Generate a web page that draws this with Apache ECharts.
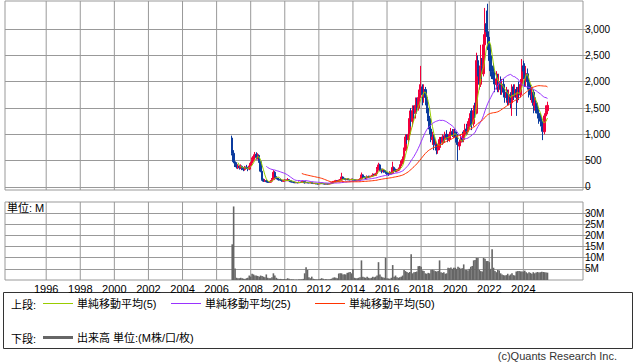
<!DOCTYPE html>
<html><head><meta charset="utf-8">
<script src="https://cdn.jsdelivr.net/npm/echarts@6/dist/echarts.min.js"></script>
<style>html,body{margin:0;padding:0;background:#fff}#c{width:638px;height:362px}</style>
</head><body><div id="c"></div>
<script>
// ---- axis definition ----
const axisStart = [1993, 8];        // first month on the time axis
const axisMonthCount = 408;         // months shown (1993-08 .. 2027-07)
const dataStart = [2006, 12];       // first month of price data
const yearLabels = ['1996','1998','2000','2002','2004','2006','2008','2010','2012','2014','2016','2018','2020','2022','2024'];
const priceTicks = [0, 500, 1000, 1500, 2000, 2500, 3000];
const volumeTicks = [5, 10, 15, 20, 25, 30];
const maPeriods = [5, 25, 50];

// ---- monthly OHLC (2006-12 .. 2025-06) ----
const opens = [
  930,
  640,480,420,380,400,360,390,350,330,380,360,340,
  400,450,520,580,620,560,600,480,300,140,110,120,
  100,95,90,110,140,280,200,160,150,140,130,110,
  120,130,120,140,120,100,95,90,80,85,80,90,
  85,100,105,80,85,80,78,85,70,65,68,60,
  58,62,70,68,62,55,58,56,60,65,80,100,
  110,120,115,125,130,190,160,150,140,150,140,135,
  145,135,130,125,130,135,150,230,190,180,170,200,
  190,200,210,240,220,250,330,420,330,300,320,300,
  280,250,240,280,260,370,330,300,320,340,400,450,
  520,700,950,900,1000,1300,1250,1450,1400,1550,1500,1700,
  1800,1900,1750,1850,1700,1500,1300,1100,900,950,800,800,
  700,750,900,850,950,900,1000,950,900,1000,1050,980,
  1050,1000,850,780,850,950,900,1000,1100,1050,1150,1300,
  1250,1200,1450,1400,2400,2250,1950,2300,2150,2700,3100,2950,
  2700,2400,2300,2200,2050,1950,2050,1900,2000,1850,1950,1800,
  1700,1800,1650,1750,1600,1900,1750,1850,1700,1800,1750,1950,
  2300,2200,2050,2150,2000,1850,1750,1800,1550,1600,1500,1400,
  1300,1250,1150,1050,1350,1450
];
const closes = [
  640,
  480,420,380,400,360,390,350,330,380,360,340,400,
  450,520,580,620,560,600,480,300,140,110,120,100,
  95,90,110,140,280,200,160,150,140,130,110,120,
  130,120,140,120,100,95,90,80,85,80,90,85,
  100,105,80,85,80,78,85,70,65,68,60,58,
  62,70,68,62,55,58,56,60,65,80,100,110,
  120,115,125,130,190,160,150,140,150,140,135,145,
  135,130,125,130,135,150,230,190,180,170,200,190,
  200,210,240,220,250,330,420,330,300,320,300,280,
  250,240,280,260,370,330,300,320,340,400,450,520,
  700,950,900,1000,1300,1250,1450,1400,1550,1500,1700,1800,
  1900,1750,1850,1700,1500,1300,1100,900,950,800,800,700,
  750,900,850,950,900,1000,950,900,1000,1050,980,1050,
  1000,850,780,850,950,900,1000,1100,1050,1150,1300,1250,
  1200,1450,1400,2400,2250,1950,2300,2150,2700,3100,2950,2700,
  2400,2300,2200,2050,1950,2050,1900,2000,1850,1950,1800,1700,
  1800,1650,1750,1600,1900,1750,1850,1700,1800,1750,1950,2300,
  2200,2050,2150,2000,1850,1750,1800,1550,1600,1500,1400,1300,
  1250,1150,1050,1350,1450,1550
];
const lows = [
  600,
  450,380,350,340,330,340,320,300,310,340,300,320,
  360,430,480,540,520,520,460,280,120,95,95,90,
  80,80,85,100,130,180,150,130,120,120,100,100,
  110,110,115,110,90,85,80,75,75,70,75,78,
  80,90,65,75,72,70,72,60,58,58,52,50,
  52,58,60,55,50,50,50,52,55,60,75,95,
  100,105,108,115,125,140,135,125,130,128,125,130,
  125,118,112,115,120,125,145,170,165,150,160,170,
  180,190,200,205,210,240,310,300,260,280,270,250,
  230,210,230,240,250,310,280,280,300,320,380,430,
  500,680,820,850,960,1150,1150,1300,1300,1400,1450,1650,
  1700,1550,1600,1550,1400,1250,1000,850,800,700,700,620,
  630,700,780,800,830,850,900,850,860,950,950,930,
  950,800,500,700,800,850,850,950,980,1000,1100,1150,
  1080,1150,1300,1380,2100,1850,1900,2050,2100,2600,2850,2600,
  2200,2100,2050,1950,1800,1850,1800,1800,1750,1750,1700,1600,
  1600,1550,1550,1500,1350,1650,1700,1350,1600,1650,1700,1900,
  2050,1900,1900,1850,1700,1650,1600,1400,1450,1400,1300,1200,
  1150,1050,890,1000,1300,1380
];
const highs = [
  975,
  700,520,470,430,420,430,410,380,400,420,380,430,
  480,560,620,665,660,640,620,500,320,160,150,140,
  120,110,130,170,320,300,220,180,170,160,140,140,
  150,140,170,150,125,110,100,95,95,95,105,100,
  115,120,110,95,95,90,100,90,75,75,72,66,
  70,78,80,72,65,64,62,66,72,90,115,125,
  135,130,140,150,270,200,175,160,165,160,150,160,
  160,145,140,142,150,165,275,240,205,195,220,215,
  215,230,260,250,270,380,460,440,350,350,340,320,
  300,270,300,300,480,390,350,340,370,430,500,580,
  750,1000,1000,1100,1450,1500,1550,1550,1700,1700,1850,1950,
  2300,1950,1950,1900,1750,1550,1350,1150,1050,1000,900,850,
  820,950,950,1000,980,1050,1080,1000,1050,1120,1100,1100,
  1100,1050,900,900,1000,1050,1080,1200,1200,1250,1400,1450,
  1500,1550,1600,2550,2500,2300,2700,2450,2900,3400,3350,3480,
  2850,2600,2500,2350,2150,2200,2150,2150,2100,2050,2050,1900,
  1900,1850,1850,1800,1950,1950,1950,1900,1900,2000,2050,2430,
  2400,2350,2300,2250,2100,1950,1900,1850,1700,1700,1600,1500,
  1400,1350,1200,1400,1550,1620
];
// monthly volume, millions
const volumes = [
  16,
  33,5.2,1.0,0.8,0.8,1.0,0.8,0.6,0.5,0.8,1.0,2.0,
  1.5,2.8,2.5,2.0,2.0,1.8,1.5,2.0,1.8,1.5,1.2,2.5,
  1.0,0.8,0.8,1.2,3.0,2.0,1.0,0.6,0.5,0.5,0.4,0.4,
  0.4,0.3,0.8,0.6,0.3,0.3,0.3,0.2,0.2,0.2,0.3,0.3,
  0.3,0.5,3.0,5.7,4.5,1.2,0.8,1.5,0.6,0.4,0.3,0.3,
  0.3,0.5,0.8,0.6,0.3,0.4,0.3,0.3,0.4,0.6,1.0,1.2,
  1.0,0.8,2.9,3.0,3.0,2.5,2.6,2.5,3.2,3.4,3.6,3.0,
  4.9,1.0,0.8,0.8,1.0,1.2,8.8,1.5,1.2,1.0,1.5,1.0,
  0.8,1.0,1.5,1.2,1.5,2.0,8.0,2.5,1.5,1.2,1.0,9.9,
  0.8,0.7,0.6,1.0,6.7,1.5,2.0,1.2,1.0,1.2,1.5,2.0,
  4.5,4.0,3.6,3.2,3.6,11.5,3.0,3.5,3.6,3.8,6.2,6.3,
  6.0,4.3,4.0,3.0,2.8,3.2,3.0,4.5,4.6,4.4,4.0,3.8,
  4.0,8.8,3.5,3.2,3.5,2.8,3.0,5.5,5.3,5.6,5.0,5.5,
  5.5,5.0,6.0,5.5,5.0,5.3,7.0,4.5,4.5,4.3,5.0,6.0,
  6.3,8.8,9.0,9.9,9.9,4.5,4.0,3.8,9.9,9.5,8.5,8.5,
  8.0,5.0,13.8,5.5,4.0,3.5,4.5,4.3,3.0,2.5,2.2,2.0,
  2.2,2.8,2.0,2.5,3.0,2.2,2.0,3.8,4.0,4.0,3.9,3.8,
  3.8,4.2,3.5,3.0,3.5,3.2,2.8,3.5,3.0,3.4,3.6,3.4,
  3.5,3.7,3.6,3.5,3.4,3.3
];

// ---- build ----
const FONT = "'Liberation Sans', 'Noto Sans CJK JP', sans-serif";
const cats = [];
for (let i = 0; i < axisMonthCount; i++) {
  const t = axisStart[0] * 12 + (axisStart[1] - 1) + i;
  cats.push(Math.floor(t / 12) + '-' + String(t % 12 + 1).padStart(2, '0'));
}
const offset = (dataStart[0] * 12 + dataStart[1] - 1) - (axisStart[0] * 12 + axisStart[1] - 1);
function place(arr) {
  const out = new Array(axisMonthCount).fill('-');
  arr.forEach((v, i) => { out[offset + i] = v; });
  return out;
}
const candleData = place(opens.map((o, i) => [o, closes[i], lows[i], highs[i]]))
  .map(d => d === '-' ? ['-', '-', '-', '-'] : d);
function sma(n) {
  return closes.map((_, i) => {
    if (i < n - 1) return '-';
    let s = 0; for (let k = i - n + 1; k <= i; k++) s += closes[k];
    return +(s / n).toFixed(1);
  });
}
const isYearTick = (idx, val) => String(val).slice(5) === '01' && yearLabels.indexOf(String(val).slice(0, 4)) >= 0;
// full-height markers at each labelled year (vertical gridlines)
const yearGridData = cats.map((c, i) => isYearTick(i, c) ? 1 : '-');
const GRID = '#999';
const maNames = maPeriods.map(p => '単純移動平均(' + p + ')');
const maColors = ['#99cc00', '#9933ff', '#ff3300'];
const volName = '出来高 単位:(M株/口/枚)';

const xBase = (gi, showLabel) => ({
  type: 'category', gridIndex: gi, data: cats, boundaryGap: false,
  axisLine: { show: false }, axisTick: { show: false },
  axisLabel: { show: showLabel, interval: isYearTick, formatter: v => v.slice(0, 4),
               fontSize: 11, color: '#000', margin: 3, fontFamily: FONT },
  splitLine: { show: false }
});
const xHidden = gi => ({ type: 'category', gridIndex: gi, data: cats, boundaryGap: false, show: false });
const yHidden = gi => ({ type: 'value', gridIndex: gi, min: 0, max: 1, show: false, splitLine: { show: false } });
const yearGridSeries = (xi, yi) => ({
  type: 'bar', name: 'yeargrid' + xi, xAxisIndex: xi, yAxisIndex: yi, data: yearGridData,
  barWidth: 1, z: 1, silent: true, itemStyle: { color: GRID }, color: GRID
});

const chart = echarts.init(document.getElementById('c'), null, { renderer: 'svg' });
chart.setOption({
  animation: false,
  backgroundColor: '#fff',
  textStyle: { fontFamily: FONT },
  grid: [
    { left: 5, top: 1, width: 578, height: 189, show: true, borderColor: GRID, borderWidth: 1 },
    { left: 5, top: 202, width: 578, height: 78, show: true, borderColor: GRID, borderWidth: 1 }
  ],
  xAxis: [xBase(0, false), xBase(1, true), xHidden(0), xHidden(1)],
  yAxis: [
    { type: 'value', gridIndex: 0, position: 'right', min: -57, max: 3532,
      axisLine: { show: false },
      axisTick: { show: true, length: 8, customValues: priceTicks, lineStyle: { color: GRID } },
      axisLabel: { customValues: priceTicks, fontSize: 10, color: '#000', margin: 2, fontFamily: FONT,
                   formatter: v => Number(v).toLocaleString('en-US') },
      splitLine: { show: true, lineStyle: { color: GRID } } },
    { type: 'value', gridIndex: 1, position: 'right', min: 0, max: 35, interval: 5,
      axisLine: { show: false },
      axisTick: { show: true, length: 8, customValues: volumeTicks, lineStyle: { color: GRID } },
      axisLabel: { customValues: volumeTicks, fontSize: 10, color: '#000', margin: 2, fontFamily: FONT,
                   formatter: v => v + 'M' },
      splitLine: { show: true, lineStyle: { color: GRID } } },
    yHidden(0), yHidden(1)
  ],
  legend: [
    { left: 43, top: 298, data: [maNames[0]] },
    { left: 171, top: 298, data: [maNames[1]] },
    { left: 315, top: 298, data: [maNames[2]] },
    { left: 43, top: 332, data: [volName], itemHeight: 3 }
  ].map(l => Object.assign({ icon: 'rect', itemWidth: 30, itemHeight: 1, padding: 0, selectedMode: false,
                             textStyle: { fontSize: 11, color: '#000', fontFamily: FONT, padding: [0, 0, 0, -1] } }, l)),
  series: [
    yearGridSeries(2, 2),
    yearGridSeries(3, 3),
    { type: 'candlestick', name: 'price', xAxisIndex: 0, yAxisIndex: 0, data: candleData, barWidth: 2,
      itemStyle: { color: '#f2003c', color0: '#0b3b9e', borderColor: '#f2003c', borderColor0: '#0b3b9e', borderWidth: 1 } },
    ...maPeriods.map((p, k) => ({
      type: 'line', name: maNames[k], xAxisIndex: 0, yAxisIndex: 0, data: place(sma(p)),
      showSymbol: false, symbol: 'none', color: maColors[k], lineStyle: { width: 1, color: maColors[k] }
    })),
    { type: 'bar', name: volName, xAxisIndex: 1, yAxisIndex: 1, data: place(volumes),
      barWidth: 1.6, color: '#666', itemStyle: { color: '#666' } }
  ],
  graphic: [
    { type: 'rect', shape: { x: 3.5, y: 292.5, width: 629, height: 56 }, style: { fill: 'none', stroke: '#333', lineWidth: 1 }, silent: true },
    { type: 'text', left: 11, top: 299, style: { text: '上段:', font: '11px ' + FONT, fill: '#000' } },
    { type: 'text', left: 11, top: 333, style: { text: '下段:', font: '11px ' + FONT, fill: '#000' } },
    { type: 'text', left: 7, top: 202, style: { text: '単位: M', font: '11px ' + FONT, fill: '#000' } },
    { type: 'text', right: 21, top: 350, style: { text: '(c)Quants Research Inc.', font: '11px ' + FONT, fill: '#333' } }
  ]
});
</script>
</body></html>
